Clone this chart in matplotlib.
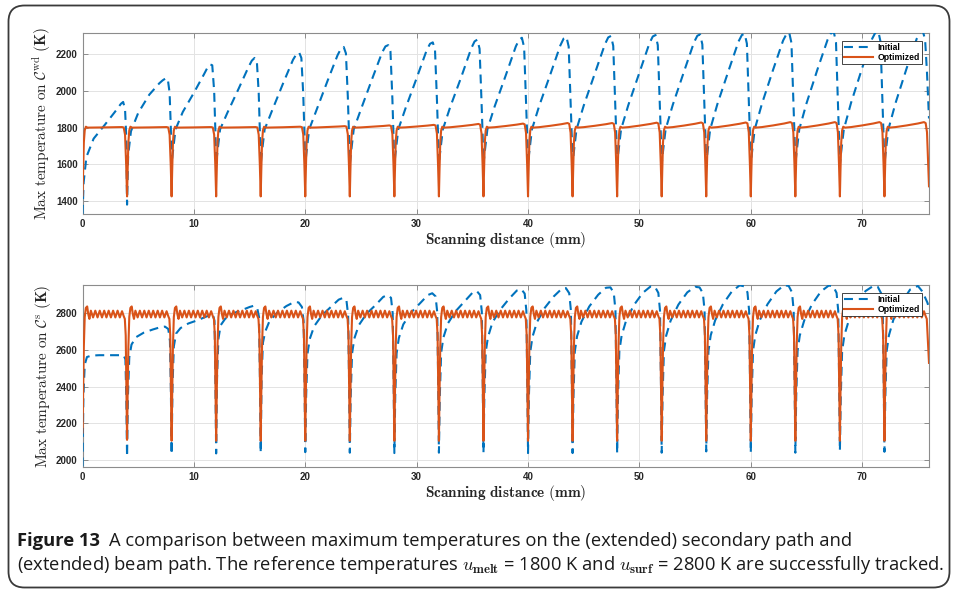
import matplotlib
matplotlib.use("Agg")
import matplotlib.pyplot as plt
from matplotlib.patches import FancyBboxPatch

plt.rcParams['mathtext.fontset'] = 'cm'

# ---------------- data ----------------
seg_len = 4.0            # mm between the dips
x_max = 76.0

# top panel, Initial (blue dashed): values at these positions inside each 4 mm segment
init_top_u = [0.1, 0.35, 1.0, 2.0, 2.9, 3.2, 3.45, 3.65, 3.82, 3.93]
init_top_start = 1330
init_top_rows = [
    [1500, 1640, 1740, 1815, 1885, 1910, 1930, 1940, 1900, 1750],
    [1650, 1780, 1880, 1980, 2042, 2058, 2068, 2068, 1990, 1800],
    [1660, 1790, 1885, 1990, 2090, 2125, 2145, 2140, 2000, 1780],
    [1660, 1790, 1880, 2010, 2130, 2165, 2180, 2165, 1990, 1770],
    [1660, 1790, 1890, 2040, 2170, 2200, 2210, 2180, 1980, 1760],
    [1660, 1790, 1895, 2055, 2195, 2230, 2240, 2205, 1970, 1760],
    [1660, 1790, 1900, 2065, 2210, 2243, 2250, 2215, 1960, 1750],
    [1660, 1790, 1905, 2070, 2222, 2257, 2265, 2222, 1955, 1750],
    [1660, 1790, 1910, 2075, 2232, 2270, 2280, 2230, 1950, 1750],
    [1660, 1790, 1915, 2085, 2242, 2280, 2290, 2238, 1950, 1750],
    [1660, 1790, 1918, 2090, 2248, 2286, 2295, 2242, 1950, 1750],
    [1660, 1790, 1920, 2095, 2254, 2292, 2300, 2246, 1950, 1750],
    [1660, 1790, 1922, 2100, 2260, 2297, 2305, 2250, 1950, 1750],
    [1660, 1790, 1925, 2105, 2265, 2301, 2308, 2254, 1950, 1750],
    [1660, 1790, 1928, 2110, 2270, 2305, 2312, 2258, 1950, 1750],
    [1660, 1790, 1930, 2115, 2275, 2310, 2318, 2262, 1950, 1750],
    [1660, 1790, 1932, 2120, 2280, 2315, 2322, 2265, 1950, 1750],
    [1660, 1790, 1935, 2125, 2285, 2320, 2325, 2268, 1950, 1750],
    [1660, 1790, 1935, 2125, 2285, 2320, 2325, 2280, 2100, 1950],
]
init_top_dips = [1380, 1600, 1600, 1600, 1600, 1600, 1600, 1600, 1600,
                 1600, 1600, 1600, 1600, 1600, 1600, 1600, 1600, 1600]
init_top_end = 1850

# top panel, Optimized (orange): one segment profile + end-of-segment rise per segment
opt_top_u = [0.05, 0.12, 0.2, 0.3, 0.45, 1.0, 2.0, 3.0, 3.55, 3.7, 3.82, 3.92]
opt_top_shape = [1560, 1720, 1785, 1805, 1800, 1800, 1800, 1800, 1800, 1798, 1760, 1600]
opt_top_ramp = [0, 0, 0, 0, 0, 0.1, 0.4, 0.75, 1.0, 0.9, 0.5, 0]
opt_top_rise = [3, 3, 3, 3, 5, 8, 12, 15, 20, 22, 25, 25, 27, 28, 28, 30, 30, 30, 30]
opt_top_start = 1430
opt_top_dips = [1425, 1425, 1425, 1425, 1425, 1425, 1425, 1425, 1425,
                1425, 1425, 1425, 1425, 1425, 1425, 1425, 1425, 1425]
opt_top_end = 1480

# bottom panel, Initial (blue dashed)
init_bot_u = [0.08, 0.2, 0.4, 0.8, 1.5, 2.3, 3.0, 3.4, 3.7, 3.85, 3.93]
init_bot_start = 1965
init_bot_rows = [
    [2350, 2520, 2562, 2570, 2572, 2572, 2572, 2572, 2570, 2550, 2350],
    [2350, 2560, 2630, 2670, 2695, 2712, 2725, 2728, 2715, 2650, 2400],
    [2400, 2620, 2690, 2720, 2745, 2762, 2780, 2790, 2795, 2760, 2450],
    [2450, 2660, 2735, 2770, 2800, 2818, 2835, 2842, 2825, 2780, 2450],
    [2450, 2640, 2700, 2760, 2805, 2840, 2862, 2860, 2835, 2760, 2450],
    [2350, 2580, 2660, 2730, 2790, 2835, 2875, 2885, 2870, 2790, 2450],
    [2350, 2580, 2662, 2735, 2798, 2845, 2890, 2900, 2885, 2800, 2450],
    [2350, 2582, 2665, 2740, 2805, 2855, 2900, 2910, 2893, 2805, 2450],
    [2350, 2585, 2668, 2745, 2812, 2865, 2912, 2922, 2900, 2810, 2450],
    [2350, 2588, 2670, 2750, 2820, 2880, 2925, 2932, 2908, 2815, 2450],
    [2350, 2590, 2672, 2752, 2830, 2892, 2933, 2938, 2910, 2815, 2450],
    [2350, 2592, 2675, 2755, 2838, 2902, 2940, 2942, 2912, 2815, 2450],
    [2350, 2595, 2678, 2760, 2845, 2912, 2947, 2945, 2912, 2815, 2450],
    [2350, 2595, 2678, 2760, 2848, 2915, 2945, 2942, 2910, 2815, 2450],
    [2350, 2595, 2680, 2762, 2850, 2920, 2953, 2948, 2915, 2815, 2450],
    [2350, 2595, 2680, 2762, 2850, 2920, 2954, 2950, 2915, 2815, 2450],
    [2350, 2595, 2680, 2762, 2850, 2920, 2952, 2948, 2912, 2815, 2450],
    [2350, 2595, 2680, 2762, 2850, 2922, 2950, 2945, 2910, 2815, 2450],
    [2350, 2595, 2680, 2765, 2855, 2930, 2950, 2920, 2880, 2860, 2845],
]
init_bot_dips = [2018, 2031, 2036, 2040, 2043, 2040, 2038, 2040, 2040,
                 2038, 2038, 2037, 2040, 2047, 2040, 2040, 2051, 2045]
init_bot_end = 2830

# bottom panel, Optimized (orange): rippled segment profile
opt_bot_u = [0.05, 0.12, 0.2, 0.3, 0.42, 0.52, 0.62, 0.75, 0.95, 1.15, 1.35, 1.55, 1.75,
             1.95, 2.15, 2.35, 2.55, 2.75, 2.95, 3.15, 3.35, 3.55, 3.7, 3.8, 3.88, 3.94]
opt_bot_shape = [2350, 2620, 2780, 2830, 2838, 2795, 2770, 2815, 2778, 2815, 2778, 2815, 2778,
                 2815, 2778, 2815, 2778, 2815, 2778, 2815, 2778, 2812, 2785, 2770, 2680, 2400]
opt_bot_start = 2150
opt_bot_dips = [2110, 2105, 2105, 2105, 2105, 2105, 2105, 2105, 2105,
                2105, 2105, 2105, 2105, 2105, 2105, 2105, 2105, 2105]
opt_bot_end = 2530

top_yticks = [1400, 1600, 1800, 2000, 2200]
bot_yticks = [2000, 2200, 2400, 2600, 2800]
xticks = [0, 10, 20, 30, 40, 50, 60, 70]
labels = ['Initial', 'Optimized']

BLUE = '#0072BD'
ORANGE = '#D95319'


def build(start, rows, nodes, dips, end, last_cut=None):
    xs = [0.0]
    ys = [start]
    n = len(rows)
    for k, row in enumerate(rows):
        x0 = k * seg_len
        for u, v in zip(nodes, row):
            if k == n - 1 and last_cut is not None and u > last_cut:
                continue
            xs.append(x0 + u)
            ys.append(v)
        xs.append(min(x0 + seg_len, x_max))
        ys.append(dips[k] if k < n - 1 else end)
    return xs, ys


opt_top_rows = [[s + r * w for s, w in zip(opt_top_shape, opt_top_ramp)] for r in opt_top_rise]
opt_bot_rows = [list(opt_bot_shape) for _ in range(len(init_bot_rows))]

it_x, it_y = build(init_top_start, init_top_rows, init_top_u, init_top_dips, init_top_end)
ot_x, ot_y = build(opt_top_start, opt_top_rows, opt_top_u, opt_top_dips, opt_top_end, last_cut=3.83)
ib_x, ib_y = build(init_bot_start, init_bot_rows, init_bot_u, init_bot_dips, init_bot_end)
ob_x, ob_y = build(opt_bot_start, opt_bot_rows, opt_bot_u, opt_bot_dips, opt_bot_end, last_cut=3.81)

# ---------------- figure ----------------
W, H = 956, 591
fig = plt.figure(figsize=(W / 100, H / 100), dpi=100)

# background frame with rounded corners (pixel coordinates)
bg = fig.add_axes([0, 0, 1, 1], zorder=-10)
bg.set_xlim(0, W)
bg.set_ylim(H, 0)
bg.axis('off')
bg.add_patch(FancyBboxPatch((8.5, 5.5), 941, 582, boxstyle='round,pad=0,rounding_size=16',
                            fill=False, edgecolor='#3a3a3a', linewidth=1.3))


def ax_rect(left, top, right, bottom):
    return [left / W, 1 - bottom / H, (right - left) / W, (bottom - top) / H]


ax1 = fig.add_axes(ax_rect(82.5, 33, 929, 214))
ax2 = fig.add_axes(ax_rect(82.5, 285, 929, 467))

panels = [
    (ax1, it_x, it_y, ot_x, ot_y, (1329, 2316), top_yticks,
     r'$\mathrm{Max\ temperature\ on\ }\mathcal{C}^{\mathrm{wd}}\ (\mathbf{K})$'),
    (ax2, ib_x, ib_y, ob_x, ob_y, (1962, 2955), bot_yticks,
     r'$\mathrm{Max\ temperature\ on\ }\mathcal{C}^{\mathrm{s}}\ (\mathbf{K})$'),
]

for ax, ix, iy, ox, oy, ylim, yt, ylab in panels:
    ax.plot(ix, iy, color=BLUE, lw=1.5, dashes=(4.3, 2.8), label=labels[0], zorder=3)
    ax.plot(ox, oy, color=ORANGE, lw=1.5, label=labels[1], zorder=4)
    ax.set_xlim(0, x_max)
    ax.set_ylim(*ylim)
    ax.set_xticks(xticks)
    ax.set_yticks(yt)
    ax.grid(True, color='#e3e3e3', lw=0.7)
    ax.set_axisbelow(True)
    for sp in ax.spines.values():
        sp.set_color('#8c8c8c')
        sp.set_linewidth(0.8)
    ax.tick_params(direction='in', length=3.5, width=0.7, color='#8c8c8c',
                   top=True, right=True, labelcolor='#262626', pad=3.5)
    for lab in ax.get_xticklabels() + ax.get_yticklabels():
        lab.set_fontfamily('Liberation Sans')
        lab.set_fontweight('bold')
        lab.set_fontsize(7)
    ax.set_ylabel(ylab, fontsize=11, color='#262626')
    ax.yaxis.set_label_coords(-0.035, 0.5)
    ax.set_xlabel(r'$\mathbf{Scanning\ distance\ (mm)}$', fontsize=11, color='#262626')
    ax.xaxis.set_label_coords(0.5, -0.09)
    leg = ax.legend(loc='upper right', bbox_to_anchor=(0.9915, 0.957),
                    prop=dict(family='Liberation Sans', weight='bold', size=6.2),
                    handlelength=3.4, handletextpad=0.5, borderpad=0.25,
                    labelspacing=0.15, borderaxespad=0.0, fancybox=False, framealpha=1)
    leg.get_frame().set_edgecolor('#262626')
    leg.get_frame().set_linewidth(0.6)

# caption
cap_font = 'Open Sans'
cap_size = 13.2
y1 = 1 - 541 / H
y2 = 1 - 565 / H
t_bold = fig.text(17 / W, y1, 'Figure 13', fontfamily=cap_font, fontweight='bold',
                  fontsize=cap_size, va='center', ha='left', color='#1a1a1a')
fig.canvas.draw()
bb = t_bold.get_window_extent(renderer=fig.canvas.get_renderer())
fig.text((bb.x1 + 9) / W, y1,
         'A comparison between maximum temperatures on the (extended) secondary path and',
         fontfamily=cap_font, fontsize=cap_size, va='center', ha='left', color='#1a1a1a')
fig.text(17 / W, y2,
         r'(extended) beam path. The reference temperatures $u_{\mathbf{melt}}$ = 1800 K and '
         r'$u_{\mathbf{surf}}$ = 2800 K are successfully tracked.',
         fontfamily=cap_font, fontsize=cap_size, va='center', ha='left', color='#1a1a1a')

fig.savefig('out.png', dpi=100)
